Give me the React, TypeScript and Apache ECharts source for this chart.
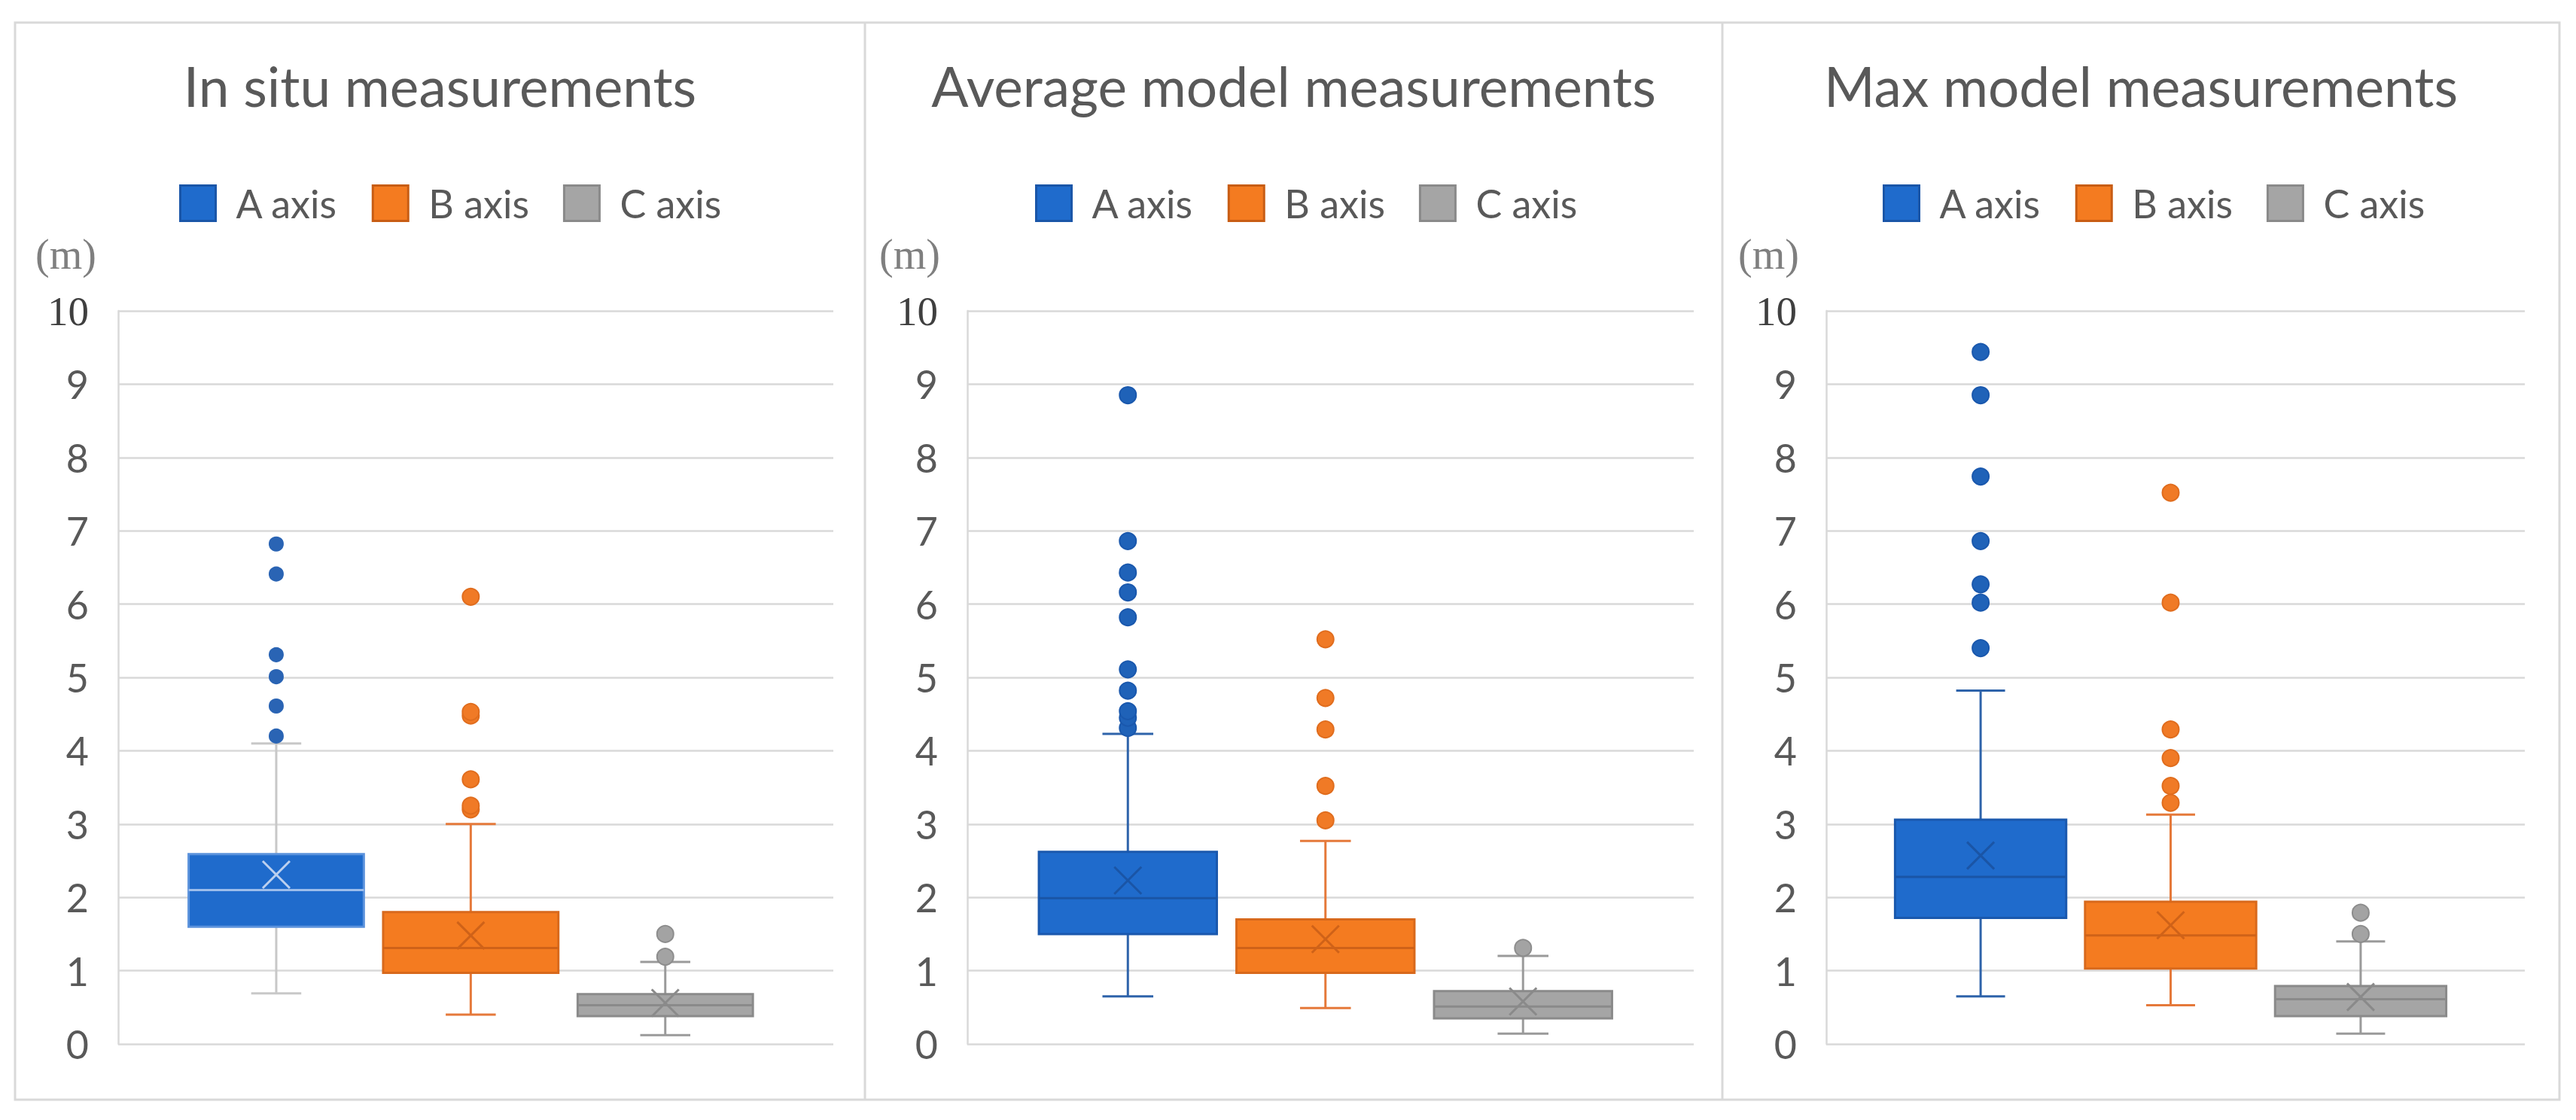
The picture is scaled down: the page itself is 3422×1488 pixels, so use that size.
import React, { useEffect, useRef } from 'react';
import * as echarts from 'echarts';

// ---------- data ----------
const PANEL_TITLES = ['In situ measurements', 'Average model measurements', 'Max model measurements'];
const GROUPS = ['A axis', 'B axis', 'C axis'];
const CATEGORY = [''];
const Y_MIN = 0;
const Y_MAX = 10;
const Y_STEP = 1;
const UNIT_LABEL = '(m)';

// [lower whisker, Q1, median, Q3, upper whisker]
const inSituA = [0.69, 1.6, 2.1, 2.59, 4.1];
const inSituB = [0.4, 0.97, 1.31, 1.8, 3.0];
const inSituC = [0.12, 0.38, 0.53, 0.68, 1.12];
const inSituMeans = [2.31, 1.48, 0.56];
const inSituOutA = [4.2, 4.61, 5.01, 5.31, 6.41, 6.82];
const inSituOutB = [3.2, 3.25, 3.61, 4.48, 4.53, 6.1];
const inSituOutC = [1.19, 1.5];

const avgA = [0.65, 1.5, 1.99, 2.62, 4.23];
const avgB = [0.49, 0.97, 1.31, 1.7, 2.77];
const avgC = [0.14, 0.35, 0.51, 0.72, 1.2];
const avgMeans = [2.23, 1.43, 0.58];
const avgOutA = [4.31, 4.45, 4.54, 4.82, 5.11, 5.82, 6.16, 6.43, 6.86, 8.85];
const avgOutB = [3.05, 3.52, 4.29, 4.72, 5.52];
const avgOutC = [1.31];

const maxA = [0.65, 1.72, 2.28, 3.06, 4.82];
const maxB = [0.53, 1.03, 1.48, 1.94, 3.13];
const maxC = [0.14, 0.38, 0.61, 0.79, 1.4];
const maxMeans = [2.57, 1.62, 0.64];
const maxOutA = [5.4, 6.02, 6.27, 6.86, 7.74, 8.85, 9.44];
const maxOutB = [3.29, 3.52, 3.9, 4.29, 6.02, 7.52];
const maxOutC = [1.5, 1.79];

const BOXES = [
  [inSituA, inSituB, inSituC],
  [avgA, avgB, avgC],
  [maxA, maxB, maxC],
];
const MEANS = [inSituMeans, avgMeans, maxMeans];
const OUTLIERS = [
  [inSituOutA, inSituOutB, inSituOutC],
  [avgOutA, avgOutB, avgOutC],
  [maxOutA, maxOutB, maxOutC],
];

// ---------- layout & style ----------
const W = 3422;
const H = 1488;
const FONT = 'Lato, "Open Sans", sans-serif';
const SERIF = '"Liberation Serif", "DejaVu Serif", serif';
const LINE = '#d9d9d9';
const TEXT = '#595959';

const PANELS = [
  { x0: 20, x1: 1149, gridLeft: 157, gridWidth: 950, legendLeft: 233, unitX: 47 },
  { x0: 1149, x1: 2288, gridLeft: 1285, gridWidth: 965, legendLeft: 1370, unitX: 1168 },
  { x0: 2288, x1: 3400, gridLeft: 2426, gridWidth: 928, legendLeft: 2496, unitX: 2309 },
];
const GRID_TOP = 413;
const GRID_BOTTOM = 1387;
const FRAME_TOP = 30;
const FRAME_BOTTOM = 1461;

const SPACING = 0.272;
const SHIFT = -0.007;
const BOX_FRAC = 0.245;
const CAP_FRAC = 0.07;
const X_HALF = 18;

const GROUP_COLORS = [
  { fill: '#1f6bcc', border: '#1a5cb4', legendBorder: '#1a56a8' },
  { fill: '#f47b20', border: '#d4661a', legendBorder: '#c85d14' },
  { fill: '#a5a5a5', border: '#8c8c8c', legendBorder: '#8a8a8a' },
];

type St = { fill: string; border: string; whisker: string; median: string; mean: string; dot: string; dotBorder: string; r: number };
const STYLES: St[][] = [
  [
    { fill: '#1f6bcc', border: '#5b92dc', whisker: '#c8c8c8', median: '#9cbdeb', mean: '#bcd0ef', dot: '#2a64b4', dotBorder: '#2a64b4', r: 9 },
    { fill: '#f47b20', border: '#d8691c', whisker: '#e5793a', median: '#cf6218', mean: '#cf6218', dot: '#f07a26', dotBorder: '#e06d1e', r: 11 },
    { fill: '#a5a5a5', border: '#8a8a8a', whisker: '#9a9a9a', median: '#8a8a8a', mean: '#8a8a8a', dot: '#a3a3a3', dotBorder: '#8d8d8d', r: 11 },
  ],
  [
    { fill: '#1f6bcc', border: '#1a58ad', whisker: '#2e63aa', median: '#1a55a6', mean: '#1a55a6', dot: '#1f62b8', dotBorder: '#1a58ad', r: 11 },
    { fill: '#f47b20', border: '#d8691c', whisker: '#e5793a', median: '#cf6218', mean: '#cf6218', dot: '#f07a26', dotBorder: '#e06d1e', r: 11 },
    { fill: '#a5a5a5', border: '#8a8a8a', whisker: '#9a9a9a', median: '#8a8a8a', mean: '#8a8a8a', dot: '#a3a3a3', dotBorder: '#8d8d8d', r: 11 },
  ],
  [
    { fill: '#1f6bcc', border: '#1a58ad', whisker: '#2e63aa', median: '#1a55a6', mean: '#1a55a6', dot: '#1f62b8', dotBorder: '#1a58ad', r: 11 },
    { fill: '#f47b20', border: '#d8691c', whisker: '#e5793a', median: '#cf6218', mean: '#cf6218', dot: '#f07a26', dotBorder: '#e06d1e', r: 11 },
    { fill: '#a5a5a5', border: '#8a8a8a', whisker: '#9a9a9a', median: '#8a8a8a', mean: '#8a8a8a', dot: '#a3a3a3', dotBorder: '#8d8d8d', r: 11 },
  ],
];

function groupCenter(api: any, gi: number) {
  const center = api.coord([0, 0])[0];
  const bw = api.size([1, 0])[0];
  return { cx: center + ((gi - 1) * SPACING + SHIFT) * bw, bw };
}

function boxRender(gi: number, st: St) {
  return (_params: any, api: any) => {
    const { cx, bw } = groupCenter(api, gi);
    const half = (BOX_FRAC * bw) / 2;
    const capHalf = (CAP_FRAC * bw) / 2;
    const y = (k: number) => api.coord([0, api.value(k)])[1];
    const yLo = y(1), yQ1 = y(2), yMed = y(3), yQ3 = y(4), yHi = y(5), yMean = y(6);
    const wl = { stroke: st.whisker, lineWidth: 3 };
    return {
      type: 'group',
      children: [
        { type: 'line', shape: { x1: cx, y1: yQ3, x2: cx, y2: yHi }, style: wl },
        { type: 'line', shape: { x1: cx, y1: yQ1, x2: cx, y2: yLo }, style: wl },
        { type: 'line', shape: { x1: cx - capHalf, y1: yHi, x2: cx + capHalf, y2: yHi }, style: wl },
        { type: 'line', shape: { x1: cx - capHalf, y1: yLo, x2: cx + capHalf, y2: yLo }, style: wl },
        { type: 'rect', shape: { x: cx - half, y: yQ3, width: 2 * half, height: yQ1 - yQ3 }, style: { fill: st.fill, stroke: st.border, lineWidth: 3 } },
        { type: 'line', shape: { x1: cx - half, y1: yMed, x2: cx + half, y2: yMed }, style: { stroke: st.median, lineWidth: 3 } },
        { type: 'line', shape: { x1: cx - X_HALF, y1: yMean - X_HALF, x2: cx + X_HALF, y2: yMean + X_HALF }, style: { stroke: st.mean, lineWidth: 3 } },
        { type: 'line', shape: { x1: cx - X_HALF, y1: yMean + X_HALF, x2: cx + X_HALF, y2: yMean - X_HALF }, style: { stroke: st.mean, lineWidth: 3 } },
      ],
    };
  };
}

function dotRender(gi: number, st: St) {
  return (_params: any, api: any) => {
    const { cx } = groupCenter(api, gi);
    const cy = api.coord([0, api.value(1)])[1];
    return { type: 'circle', shape: { cx, cy, r: st.r }, style: { fill: st.dot, stroke: st.dotBorder, lineWidth: 2 } };
  };
}

function buildOption() {
  const grid: any[] = [];
  const xAxis: any[] = [];
  const yAxis: any[] = [];
  const title: any[] = [];
  const legend: any[] = [];
  const series: any[] = [];
  const graphic: any[] = [];

  graphic.push({
    type: 'rect',
    shape: { x: PANELS[0].x0, y: FRAME_TOP, width: PANELS[2].x1 - PANELS[0].x0, height: FRAME_BOTTOM - FRAME_TOP },
    style: { fill: 'none', stroke: LINE, lineWidth: 3 },
    silent: true,
  });

  PANELS.forEach((p, pi) => {
    if (pi > 0) {
      graphic.push({ type: 'line', shape: { x1: p.x0, y1: FRAME_TOP, x2: p.x0, y2: FRAME_BOTTOM }, style: { stroke: LINE, lineWidth: 3 }, silent: true });
    }
    graphic.push({
      type: 'text',
      x: p.unitX,
      y: 310,
      style: { text: UNIT_LABEL, font: `56px ${SERIF}`, fill: '#7f7f7f' },
      silent: true,
    });

    grid.push({ left: p.gridLeft, width: p.gridWidth, top: GRID_TOP, height: GRID_BOTTOM - GRID_TOP, containLabel: false });
    xAxis.push({
      type: 'category',
      gridIndex: pi,
      data: CATEGORY,
      boundaryGap: true,
      axisLine: { show: false },
      axisTick: { show: false },
      axisLabel: { show: false },
      splitLine: { show: false },
    });
    yAxis.push({
      type: 'value',
      gridIndex: pi,
      min: Y_MIN,
      max: Y_MAX,
      interval: Y_STEP,
      axisLine: { show: true, lineStyle: { color: LINE, width: 2.5 } },
      axisTick: { show: false },
      splitLine: { show: true, lineStyle: { color: LINE, width: 2.5 } },
      axisLabel: {
        margin: 39,
        fontSize: 52,
        fontFamily: FONT,
        color: TEXT,
        formatter: (v: number) => (v === Y_MAX ? `{s|${v}}` : String(v)),
        rich: { s: { fontFamily: SERIF, fontSize: 55, color: '#3f3f3f' } },
      },
    });
    title.push({
      text: PANEL_TITLES[pi],
      left: (p.x0 + p.x1) / 2,
      textAlign: 'center',
      top: 71,
      padding: 0,
      textStyle: { fontFamily: FONT, fontSize: 73, fontWeight: 'normal', color: TEXT, lineHeight: 86 },
    });
    legend.push({
      left: p.legendLeft,
      top: 239,
      orient: 'horizontal',
      icon: 'rect',
      itemWidth: 47,
      itemHeight: 47,
      itemGap: 45,
      selectedMode: false,
      textStyle: { fontFamily: FONT, fontSize: 52, color: TEXT, lineHeight: 52, padding: [0, 0, 0, 22] },
      data: GROUPS.map((g, gi) => ({
        name: g,
        itemStyle: { color: GROUP_COLORS[gi].fill, borderColor: GROUP_COLORS[gi].legendBorder, borderWidth: 3 },
      })),
    });

    GROUPS.forEach((g, gi) => {
      const st = STYLES[pi][gi];
      const b = BOXES[pi][gi];
      series.push({
        type: 'custom',
        name: g,
        xAxisIndex: pi,
        yAxisIndex: pi,
        itemStyle: { color: GROUP_COLORS[gi].fill },
        encode: { x: 0, y: [1, 2, 3, 4, 5, 6] },
        data: [[0, b[0], b[1], b[2], b[3], b[4], MEANS[pi][gi]]],
        renderItem: boxRender(gi, st),
        z: 2,
      });
      series.push({
        type: 'custom',
        name: g,
        xAxisIndex: pi,
        yAxisIndex: pi,
        itemStyle: { color: GROUP_COLORS[gi].fill },
        encode: { x: 0, y: 1 },
        data: OUTLIERS[pi][gi].map((v) => [0, v]),
        renderItem: dotRender(gi, st),
        z: 3,
      });
    });
  });

  return {
    animation: false,
    backgroundColor: '#ffffff',
    grid,
    xAxis,
    yAxis,
    title,
    legend,
    series,
    graphic,
  };
}

export default function App() {
  const ref = useRef<HTMLDivElement>(null);
  useEffect(() => {
    if (!ref.current) return;
    const chart = echarts.init(ref.current, undefined, { renderer: 'svg', width: W, height: H });
    chart.setOption(buildOption() as any);
    return () => chart.dispose();
  }, []);
  return <div ref={ref} style={{ position: 'absolute', left: 0, top: 0, width: W, height: H, background: '#fff' }} />;
}
